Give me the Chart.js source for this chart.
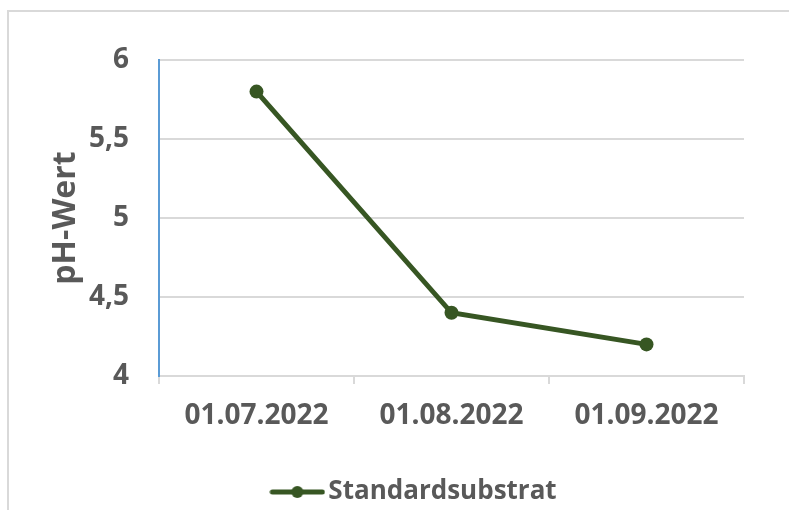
<!DOCTYPE html>
<html>
<head>
<meta charset="utf-8">
<style>
html,body{margin:0;padding:0;background:#fff;}
#wrap{position:relative;width:789px;height:510px;overflow:hidden;}
#frame{position:absolute;left:7px;top:10px;width:800px;height:520px;border:2px solid #D9D9D9;box-sizing:border-box;}
canvas{position:absolute;left:0;top:0;}
</style>
<script src="https://cdn.jsdelivr.net/npm/chart.js@4"></script>
</head>
<body>
<div id="wrap"><div id="frame"></div><canvas id="c" width="789" height="510"></canvas></div>
<script>
const categories = ['01.07.2022', '01.08.2022', '01.09.2022'];
const seriesName = 'Standardsubstrat';
const phValues = [5.8, 4.4, 4.2];
const yTicks = [4, 4.5, 5, 5.5, 6];
const yTitle = 'pH-Wert';

const GREEN = '#375623';
const TEXT = '#595959';
const FONT = '"Open Sans"';

const mk = document.createElement('canvas');
mk.width = 56; mk.height = 14;
(function(){
  const g = mk.getContext('2d');
  g.strokeStyle = GREEN; g.lineWidth = 5; g.lineCap = 'round';
  g.beginPath(); g.moveTo(3, 7); g.lineTo(53, 7); g.stroke();
  g.fillStyle = GREEN; g.beginPath(); g.arc(28, 7, 6, 0, Math.PI*2); g.fill();
})();

const legendShift = {
  id: 'legendShift',
  afterLayout(chart) {
    const lg = chart.legend;
    if (lg) { lg.left += 46; lg.right += 46; lg.top += 5; lg.bottom += 5; }
  }
};

function build() {
  Chart.defaults.font.family = FONT;
  Chart.defaults.font.weight = 'bold';
  Chart.defaults.color = TEXT;

  new Chart(document.getElementById('c'), {
    type: 'line',
    data: {
      labels: categories,
      datasets: [{
        label: seriesName,
        data: phValues,
        borderColor: GREEN,
        backgroundColor: GREEN,
        borderWidth: 5,
        pointRadius: 7,
        pointHoverRadius: 7,
        pointBackgroundColor: GREEN,
        pointBorderWidth: 0,
        tension: 0
      }]
    },
    options: {
      responsive: false,
      animation: false,
      events: [],
      layout: { padding: { left: 0, right: 45, top: 60, bottom: 0 } },
      plugins: {
        tooltip: { enabled: false },
        legend: {
          position: 'bottom',
          labels: {
            usePointStyle: true,
            pointStyleWidth: 36,
            padding: 2,
            font: { size: 26, weight: 'bold', family: FONT },
            color: TEXT,
            generateLabels: (chart) => chart.data.datasets.map((ds, i) => ({
              text: ds.label, pointStyle: mk, fillStyle: GREEN, strokeStyle: GREEN,
              lineWidth: 0, datasetIndex: i, hidden: false, fontColor: TEXT
            }))
          }
        }
      },
      scales: {
        x: {
          offset: true,
          grid: { offset: true, display: true, drawOnChartArea: false, drawTicks: true, tickLength: 8, color: '#D9D9D9', lineWidth: 2 },
          border: { display: true, color: '#D9D9D9', width: 2 },
          ticks: { font: { size: 28, weight: 'bold', family: FONT }, color: TEXT, padding: 15, maxRotation: 0 },
          afterFit: (s) => { s.height = 96; }
        },
        y: {
          min: 4, max: 6,
          afterBuildTicks: (s) => { s.ticks = yTicks.map(v => ({ value: v })); },
          grid: { color: '#D9D9D9', lineWidth: 2, drawTicks: false },
          border: { display: true, color: '#5B9BD5', width: 2 },
          ticks: {
            font: { size: 28, weight: 'bold', family: FONT }, color: TEXT, padding: 30,
            callback: (v) => String(v).replace('.', ',')
          },
          title: {
            display: true, text: yTitle, color: TEXT,
            font: { size: 32, weight: 'bold', family: FONT },
            padding: { top: 47, bottom: 0 }
          },
          afterFit: (s) => { s.width = 159; }
        }
      }
    },
    plugins: [legendShift]
  });
}

const loads = [
  'bold 28px "Open Sans"', 'bold 32px "Open Sans"', 'bold 26px "Open Sans"'
].map(f => document.fonts.load(f).catch(() => null));
Promise.all(loads).then(build, build);
</script>
</body>
</html>
